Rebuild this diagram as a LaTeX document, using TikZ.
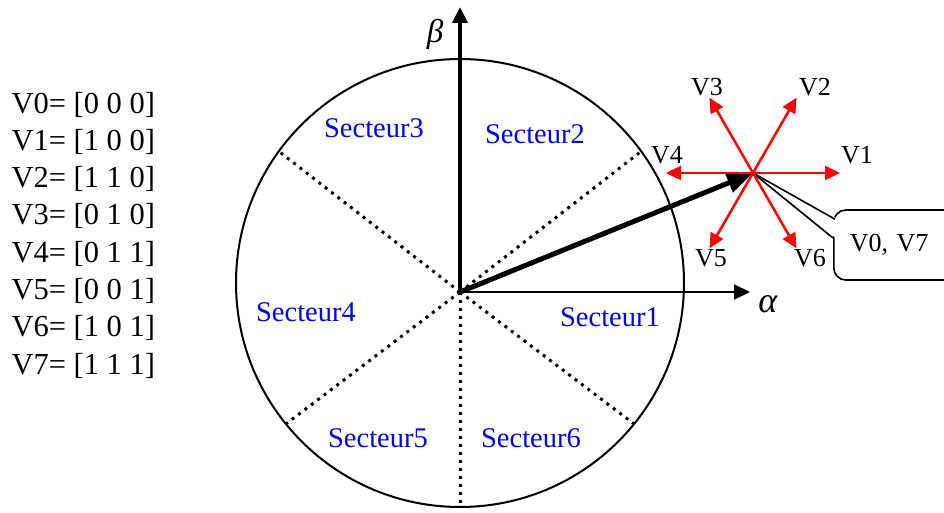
\documentclass[tikz,border=0pt]{standalone}
\usepackage{fontspec}
\setmainfont{Liberation Serif}
\usetikzlibrary{arrows.meta, positioning, calc}

\begin{document}
\begin{tikzpicture}[
    x=1pt, y=1pt,
    axis/.style={draw, -{Triangle[length=16pt, width=15pt]}},
    sector/.style={draw, line width=3pt, dash pattern=on 3pt off 5pt},
    vec/.style={draw, red, line width=2.5pt, -{Triangle[length=15pt, width=14pt]}},
    lbl/.style={font=\fontsize{26}{30}\selectfont},
    zone/.style={text=blue, font=\fontsize{28.5}{34}\selectfont},
    state/.style={anchor=base west, font=\fontsize{30.5}{36}\selectfont}
  ]
  \useasboundingbox (-460,-220) rectangle (484,292);

  % Coordinates
  \coordinate (O) at (0,0);
  \coordinate (C) at (0,9);
  \coordinate (S) at (293,119);
  \coordinate (alpha) at (290,0);
  \coordinate (beta) at (0,285);

  % Circle and sector borders
  \draw[line width=2pt] (C) circle (224);
  \foreach \a in {36,144,219,321,270}
    \path[sector] (O) -- ($(C)+(\a:224)$);

  % Axes
  \path[axis, line width=2.2pt] (O) -- (alpha);
  \path[axis, line width=4pt] (O) -- (beta);
  \node[font=\fontsize{36}{40}\selectfont] (alab) at (308,-12) {\textit{α}};
  \node[font=\fontsize{33}{38}\selectfont] (blab) at (-25,258) {\textit{β}};

  % Sectors
  \node[zone] (sec1) at (150,-25) {Secteur1};
  \node[zone] (sec2) at (75,158) {Secteur2};
  \node[zone] (sec3) at (-86,164) {Secteur3};
  \node[zone] (sec4) at (-154,-20) {Secteur4};
  \node[zone] (sec5) at (-82,-146) {Secteur5};
  \node[zone] (sec6) at (71,-146) {Secteur6};

  % Zero vectors
  \node[lbl, draw, line width=1.6pt, rounded corners=12pt, minimum height=70pt,
        text width=95pt, inner xsep=16pt, anchor=west] (zero) at (373,47) {V0, V7};
  \coordinate (p1) at ($(zero.north west)+(2,-10)$);
  \coordinate (p2) at ($(zero.west)+(0,7)$);
  \fill[white] (S) -- ($(p1)+(3,0)$) -- ($(p2)+(3,0)$) -- cycle;
  \draw[line width=1.6pt] (S) -- (p1);
  \draw[line width=1.6pt] (S) -- (p2);

  % Space vector
  \path[draw, line width=5pt, -{Triangle[length=26pt, width=20pt]}] (O) -- (S);

  % Active vectors
  \foreach \k/\a in {1/0,2/60,3/120,4/180,5/240,6/300}
    \path[vec] (S) -- ++(\a:87) coordinate (tip\k);
  \node[lbl] (v1) at (397,137) {V1};
  \node[lbl] (v2) at (355,205) {V2};
  \node[lbl] (v3) at (247,205) {V3};
  \node[lbl] (v4) at (207,137) {V4};
  \node[lbl] (v5) at (251,34) {V5};
  \node[lbl] (v6) at (350,34) {V6};

  % Switching states
  \foreach \i/\b in {0/0 0 0,1/1 0 0,2/1 1 0,3/0 1 0,4/0 1 1,5/0 0 1,6/1 0 1,7/1 1 1}
    \node[state] (row\i) at (-452,179-37.3*\i) {V\i= [\b]};
\end{tikzpicture}
\end{document}
